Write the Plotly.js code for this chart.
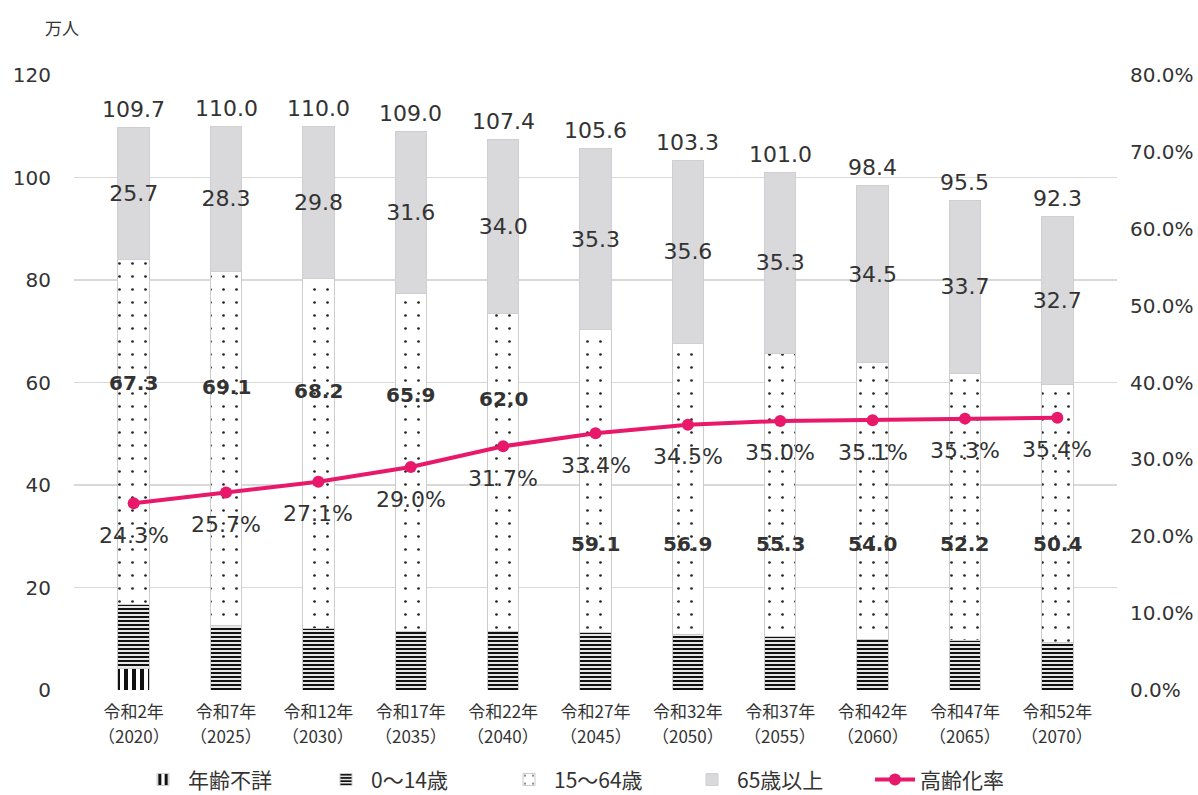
<!DOCTYPE html>
<html><head><meta charset="utf-8">
<script src="https://cdn.plot.ly/plotly-3.0.1.min.js"></script>
<style>body{margin:0;background:#fff}#c{width:1198px;height:795px}</style>
</head><body><div id="c"></div>
<script>
const categories = ['令和2年','令和7年','令和12年','令和17年','令和22年','令和27年','令和32年','令和37年','令和42年','令和47年','令和52年'];
const years = ['（2020）','（2025）','（2030）','（2035）','（2040）','（2045）','（2050）','（2055）','（2060）','（2065）','（2070）'];
const unknownAge = [4.1, 0, 0, 0, 0, 0, 0, 0, 0, 0, 0];
const age0to14 = [12.6, 12.6, 12.0, 11.5, 11.4, 11.2, 10.8, 10.4, 9.9, 9.6, 9.2];
const age15to64 = [67.3, 69.1, 68.2, 65.9, 62.0, 59.1, 56.9, 55.3, 54.0, 52.2, 50.4];
const age65plus = [25.7, 28.3, 29.8, 31.6, 34.0, 35.3, 35.6, 35.3, 34.5, 33.7, 32.7];
const totals = [109.7, 110.0, 110.0, 109.0, 107.4, 105.6, 103.3, 101.0, 98.4, 95.5, 92.3];
const agingRate = [24.3, 25.7, 27.1, 29.0, 31.7, 33.4, 34.5, 35.0, 35.1, 35.3, 35.4];

const FONT = '"DejaVu Sans", "Noto Sans CJK JP", sans-serif';
const CJK = '"Noto Sans CJK JP", "Noto Sans", sans-serif';
const TXT = '#333333';
const PINK = '#e8196a';
const W = 0.34;

const traces = [
  {type:'bar', name:'年齢不詳', x:categories, y:unknownAge, width:W,
   marker:{color:'#ffffff', line:{color:'#cccccc', width:1},
     pattern:{shape:'|', fgcolor:'#111111', bgcolor:'#ffffff', size:8, solidity:0.5}},
   hoverinfo:'skip'},
  {type:'bar', name:'0～14歳', x:categories, y:age0to14, width:W,
   marker:{color:'#ffffff', line:{color:'#cccccc', width:1},
     pattern:{shape:'-', fgcolor:'#111111', bgcolor:'#ffffff', size:4, solidity:0.55}},
   hoverinfo:'skip'},
  {type:'bar', name:'15～64歳', x:categories, y:age15to64, width:W,
   marker:{color:'#ffffff', line:{color:'#cccccc', width:1},
     pattern:{shape:'.', fgcolor:'#222222', bgcolor:'#ffffff', size:13, solidity:0.035}},
   hoverinfo:'skip'},
  {type:'bar', name:'65歳以上', x:categories, y:age65plus, width:W,
   marker:{color:'#d9d9db', line:{color:'#cfcfd1', width:1}},
   text:age65plus.map(v=>v.toFixed(1)), textposition:'inside', insidetextanchor:'middle',
   textangle:0, constraintext:'none', cliponaxis:false,
   textfont:{family:FONT, size:22, color:TXT}, hoverinfo:'skip'},
  {type:'scatter', mode:'lines+markers', name:'高齢化率', x:categories, y:agingRate, yaxis:'y2',
   line:{color:PINK, width:4}, marker:{color:PINK, size:12}, hoverinfo:'skip'}
];

const annotations = [];
categories.forEach((c,i)=>{
  annotations.push({x:c, y:totals[i], xref:'x', yref:'y', text:totals[i].toFixed(1),
    showarrow:false, yshift:18, font:{family:FONT, size:22, color:TXT}});
  const ly = i < 5 ? 60 - i*0.8 : 28.5;
  annotations.push({x:c, y:ly, xref:'x', yref:'y', text:'<b>'+age15to64[i].toFixed(1)+'</b>',
    showarrow:false, font:{family:FONT, size:20, color:TXT}});
  annotations.push({x:c, y:agingRate[i], xref:'x', yref:'y2', text:agingRate[i].toFixed(1)+'%',
    showarrow:false, yshift:-32, font:{family:FONT, size:22, color:TXT}});
  annotations.push({x:c, y:0, xref:'x', yref:'paper', text:years[i], yanchor:'middle',
    showarrow:false, yshift:-45, font:{family:CJK, size:17, color:TXT}});
});
annotations.push({xref:'paper', yref:'paper', x:-0.0115, y:1.077, xanchor:'center', yanchor:'middle',
  text:'万人', showarrow:false, font:{family:CJK, size:17, color:TXT}});

const layout = {
  width:1198, height:795,
  margin:{l:74, r:81, t:75, b:105},
  paper_bgcolor:'#ffffff', plot_bgcolor:'#ffffff',
  barmode:'stack', showlegend:true,
  font:{family:FONT, color:TXT},
  xaxis:{tickfont:{family:CJK, size:17, color:TXT}, showgrid:false, zeroline:false,
    showline:false, ticks:'', automargin:false, ticklabelstandoff:10},
  yaxis:{range:[0,120], dtick:20, tickfont:{family:FONT, size:20, color:TXT},
    gridcolor:'#d9d9d9', gridwidth:1.5, zeroline:false, ticks:'', ticklabelstandoff:22, automargin:false},
  yaxis2:{range:[0,80], dtick:10, overlaying:'y', side:'right', showgrid:false, zeroline:false,
    ticksuffix:'%', tickformat:'.1f', tickfont:{family:FONT, size:20, color:TXT}, ticks:'',
    ticklabelstandoff:12, automargin:false},
  legend:{orientation:'h', x:0.5, xanchor:'center', yref:'container', y:0.019, yanchor:'middle',
    font:{family:CJK, size:21, color:TXT}, traceorder:'normal', itemwidth:40, entrywidth:128},
  annotations:annotations
};

Plotly.newPlot('c', traces, layout, {displayModeBar:false, staticPlot:true});
</script></body></html>
